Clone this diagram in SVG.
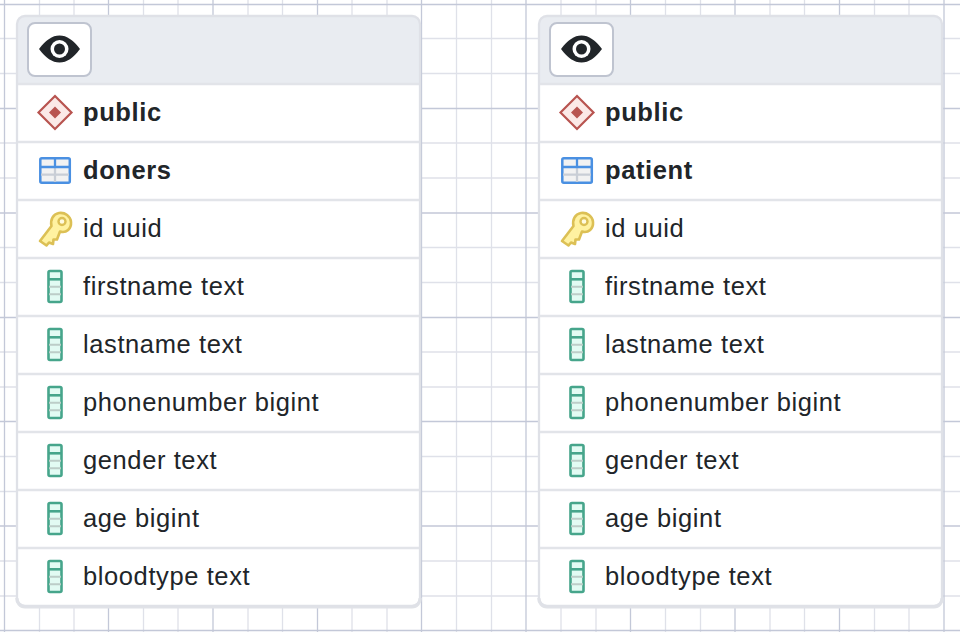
<svg xmlns="http://www.w3.org/2000/svg" xmlns:xlink="http://www.w3.org/1999/xlink" width="960" height="632" viewBox="0 0 960 632">
<style>
text{font-family:"Liberation Sans",Arial,sans-serif;font-size:25.5px;fill:#212529;letter-spacing:.6px}
.b{font-weight:700}
.minor{stroke:#dfe1e9;stroke-width:1.3;fill:none}
.major{stroke:#c3c8d8;stroke-width:1.3;fill:none}
.sep{stroke:#e2e4e9;stroke-width:2.500;fill:none}
.head{fill:#e9ecf1}
</style>
<defs>
<g id="col">
<rect x="48.500" y="0" width="13" height="31" rx="1.5" fill="#e2fbf3" stroke="#46a58b" stroke-width="2.600"/>
<path d="M49 15.700H61M49 23.300H61" stroke="#bccdc8" stroke-width="2"/>
<path d="M49 8.300H61" stroke="#46a58b" stroke-width="2.600"/>
</g>
<g id="eye">
<rect x="28" y="23" width="63" height="53" rx="7" fill="#fff" stroke="#bfc4d0" stroke-width="2"/>
<path d="M39 49C46 40 52 35.500 59.500 35.500C67 35.500 73 40 80 49C73 58 67 62.500 59.500 62.500C52 62.500 46 58 39 49Z" fill="#212529"/>
<circle cx="59.500" cy="49" r="9" fill="#fff"/>
<circle cx="59.500" cy="49" r="5.500" fill="#212529"/>
</g>
<g id="schema">
<path d="M55 96L71.500 112.500L55 129L38.500 112.500Z" fill="#fbe9e7" stroke="#b85450" stroke-width="2.200"/>
<path d="M55 106.500L61 112.500L55 118.500L49 112.500Z" fill="#b85450"/>
</g>
<g id="table">
<rect x="40.300" y="158.200" width="29.500" height="24.500" rx="1.500" fill="#f2f2f2" stroke="#4a90e2" stroke-width="2.500"/>
<path d="M41 174.700H69M55 167V182" stroke="#c9ced6" stroke-width="2.300"/>
<path d="M41 167H69M55 159V167" stroke="#4a90e2" stroke-width="2.300"/>
</g>
<g id="key">
<path d="M40 241L46.500 245.500L49 242.500L53 244L53.500 239.500L57 239.500L60 231.500C66.500 233.500 71.500 228.500 71 222C70.500 216.500 65 212 59 213C53 214 50 220 51.500 226Z" fill="#fff2a1" stroke="#dcc055" stroke-width="2.600" stroke-linejoin="round"/>
<circle cx="62" cy="221.500" r="3.500" fill="#fffbe0" stroke="#dcc055" stroke-width="2.400"/>
</g>
<g id="rows">
<use xlink:href="#eye"/><use xlink:href="#schema"/><use xlink:href="#table"/><use xlink:href="#key"/>
<use xlink:href="#col" y="271"/><use xlink:href="#col" y="329"/><use xlink:href="#col" y="387"/><use xlink:href="#col" y="445"/><use xlink:href="#col" y="503"/><use xlink:href="#col" y="561"/>
</g>
<path id="cardshape" d="M17 24a8 8 0 0 1 8-8H412a8 8 0 0 1 8 8V598a8 8 0 0 1-8 8H25a8 8 0 0 1-8-8Z"/>
<g id="frame">
<path d="M17 24a8 8 0 0 1 8-8H412a8 8 0 0 1 8 8V84H17Z" class="head"/>
<path d="M17 598a8 8 0 0 0 8 8.800H412a8 8 0 0 0 8-8.800" fill="none" stroke="#e0e2e7" stroke-width="3.400"/>
<use xlink:href="#cardshape" fill="none" stroke="#dfe1e7" stroke-width="2.300"/>
<path class="sep" d="M18 84H419M18 142H419M18 200H419M18 258H419M18 316H419M18 374H419M18 432H419M18 490H419M18 548H419"/>
</g>
</defs>
<rect width="960" height="632" fill="#fff"/>
<g id="grid">
<path class="minor" d="M39.500 0V632M74 0V632M143.500 0V632M178 0V632M248 0V632M282.500 0V632M352 0V632M387 0V632M456.500 0V632M491.500 0V632M561 0V632M596 0V632M665.500 0V632M700.500 0V632M770 0V632M804.500 0V632M874.500 0V632M909 0V632"/>
<path class="minor" d="M0 38.500H960M0 73.500H960M0 143H960M0 178H960M0 247.500H960M0 282.500H960M0 352H960M0 387H960M0 456.500H960M0 491.500H960M0 561H960M0 596H960"/>
<path class="major" d="M4.500 0V632M108.500 0V632M213 0V632M317.500 0V632M421.500 0V632M526 0V632M630.500 0V632M735 0V632M839.500 0V632M944 0V632"/>
<path class="major" d="M0 4.500H960M0 108.500H960M0 213H960M0 317.500H960M0 421.500H960M0 526H960M0 630.500H960"/>
</g>
<g id="connectors"/>
<g id="doners">
<use xlink:href="#cardshape" fill="#fff"/>
<use xlink:href="#frame"/>
<use xlink:href="#rows"/>
<text class="b" x="83" y="121">public</text>
<text class="b" x="83" y="179">doners</text>
<text x="83" y="237">id uuid</text>
<text x="83" y="295">firstname text</text>
<text x="83" y="353">lastname text</text>
<text x="83" y="411">phonenumber bigint</text>
<text x="83" y="469">gender text</text>
<text x="83" y="527">age bigint</text>
<text x="83" y="585">bloodtype text</text>
</g>
<g id="patient" transform="translate(522 0)">
<use xlink:href="#cardshape" fill="#fff"/>
<use xlink:href="#frame"/>
<use xlink:href="#rows"/>
<text class="b" x="83" y="121">public</text>
<text class="b" x="83" y="179">patient</text>
<text x="83" y="237">id uuid</text>
<text x="83" y="295">firstname text</text>
<text x="83" y="353">lastname text</text>
<text x="83" y="411">phonenumber bigint</text>
<text x="83" y="469">gender text</text>
<text x="83" y="527">age bigint</text>
<text x="83" y="585">bloodtype text</text>
</g>
</svg>
